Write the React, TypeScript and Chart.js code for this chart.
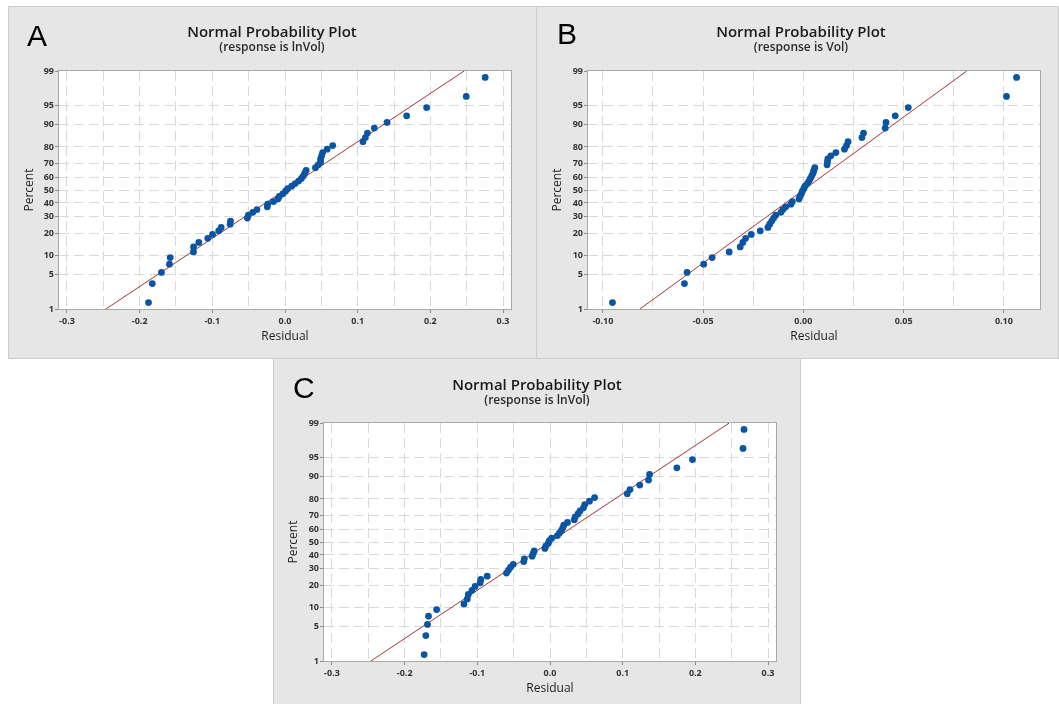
import { useEffect, useRef } from 'react';
import { Chart, registerables } from 'chart.js';

Chart.register(...registerables);

// ---------- data ----------
const PERCENTS = [
  1.39, 3.37, 5.36, 7.34, 9.33, 11.31, 13.29, 15.28, 17.26, 19.25,
  21.23, 23.21, 25.2, 27.18, 29.17, 31.15, 33.13, 35.12, 37.1, 39.09,
  41.07, 43.06, 45.04, 47.02, 49.01, 50.99, 52.98, 54.96, 56.94, 58.93,
  60.91, 62.9, 64.88, 66.87, 68.85, 70.83, 72.82, 74.8, 76.79, 78.77,
  80.75, 82.74, 84.72, 86.71, 88.69, 90.67, 92.66, 94.64, 96.63, 98.61,
];

const RESID_A = [
  -0.1878, -0.1826, -0.17, -0.159, -0.158, -0.126, -0.1258, -0.1186, -0.1063, -0.0997,
  -0.0912, -0.0878, -0.0755, -0.075, -0.0518, -0.0504, -0.0443, -0.0386, -0.0244, -0.0239,
  -0.0159, -0.0097, -0.0078, -0.0031, 0.0007, 0.0036, 0.0092, 0.014, 0.0187, 0.0225,
  0.0253, 0.0272, 0.0291, 0.0419, 0.0457, 0.049, 0.049, 0.0504, 0.0518, 0.058,
  0.0656, 0.1073, 0.1106, 0.1134, 0.1229, 0.1404, 0.1674, 0.1949, 0.2494, 0.2755,
];

const RESID_B = [
  -0.0952, -0.0593, -0.058, -0.0497, -0.0455, -0.037, -0.0315, -0.0302, -0.0288, -0.026,
  -0.0215, -0.0177, -0.0168, -0.0158, -0.0148, -0.0138, -0.0112, -0.0102, -0.0088, -0.0062,
  -0.0055, -0.0022, -0.0017, -0.001, -0.0005, 0.0002, 0.0008, 0.002, 0.0028, 0.0035,
  0.0042, 0.0048, 0.0052, 0.0057, 0.0118, 0.012, 0.0122, 0.0137, 0.0162, 0.0205,
  0.0215, 0.0223, 0.0292, 0.03, 0.0408, 0.0412, 0.0458, 0.0523, 0.1013, 0.1063,
];

const RESID_C = [
  -0.1732, -0.1709, -0.1686, -0.1672, -0.156, -0.1184, -0.1138, -0.1124, -0.1073, -0.1031,
  -0.0961, -0.0952, -0.0864, -0.0599, -0.0571, -0.0543, -0.0506, -0.0362, -0.0353, -0.0246,
  -0.0232, -0.0218, -0.007, -0.0056, -0.0023, -0.0009, 0.0023, 0.0102, 0.013, 0.0158,
  0.0176, 0.019, 0.0241, 0.0334, 0.0348, 0.0385, 0.0413, 0.046, 0.0478, 0.0543,
  0.0613, 0.1063, 0.1101, 0.1235, 0.1356, 0.137, 0.1746, 0.196, 0.2656, 0.267,
];

const FIT_PCT = [1, 99];
const FIT_A = [-0.2465, 0.2465];
const FIT_B = [-0.0815, 0.0815];
const FIT_C = [-0.2466, 0.2466];

const PCT_TICKS = [1, 5, 10, 20, 30, 40, 50, 60, 70, 80, 90, 95, 99];
const X_TICKS_AC = [-0.3, -0.25, -0.2, -0.15, -0.1, -0.05, 0, 0.05, 0.1, 0.15, 0.2, 0.25, 0.3];
const X_LABELS_AC = ['-0.3', '', '-0.2', '', '-0.1', '', '0.0', '', '0.1', '', '0.2', '', '0.3'];
const X_TICKS_B = [-0.1, -0.075, -0.05, -0.025, 0, 0.025, 0.05, 0.075, 0.1];
const X_LABELS_B = ['-0.10', '', '-0.05', '', '0.00', '', '0.05', '', '0.10'];

const TITLE = 'Normal Probability Plot';
const SUB_A = '(response is lnVol)';
const SUB_B = '(response is Vol)';
const SUB_C = '(response is lnVol)';
const X_TITLE = 'Residual';
const Y_TITLE = 'Percent';

// ---------- style ----------
const DOT = '#0a55a3';
const RED = '#aa3535';
const GRID = '#d9d9d9';
const TICKMARK = '#8a8a8a';
const TICK_COLOR = '#333333';
const PANEL_BG = '#e6e6e6';
const PANEL_BORDER = '#cdcdcd';
const FONT = "'Open Sans', 'Noto Sans', sans-serif";

// inverse of the standard normal CDF (probability axis transform)
function probit(p: number): number {
  const a = [-39.69683028665376, 220.9460984245205, -275.9285104469687, 138.357751867269, -30.66479806614716, 2.506628277459239];
  const b = [-54.47609879822406, 161.5858368580409, -155.6989798598866, 66.80131188771875, -13.28068155288572];
  const c = [-0.007784894002430293, -0.3223964580411365, -2.400758277161838, -2.549732539343734, 4.374664141464968, 2.938163982698783];
  const d = [0.007784695709041462, 0.3224671290700398, 2.445134137142996, 3.754408661907416];
  const plow = 0.02425;
  const phigh = 1 - plow;
  if (p < plow) {
    const q = Math.sqrt(-2 * Math.log(p));
    return (((((c[0] * q + c[1]) * q + c[2]) * q + c[3]) * q + c[4]) * q + c[5]) /
      ((((d[0] * q + d[1]) * q + d[2]) * q + d[3]) * q + 1);
  }
  if (p <= phigh) {
    const q = p - 0.5;
    const r = q * q;
    return (((((a[0] * r + a[1]) * r + a[2]) * r + a[3]) * r + a[4]) * r + a[5]) * q /
      (((((b[0] * r + b[1]) * r + b[2]) * r + b[3]) * r + b[4]) * r + 1);
  }
  const q = Math.sqrt(-2 * Math.log(1 - p));
  return -(((((c[0] * q + c[1]) * q + c[2]) * q + c[3]) * q + c[4]) * q + c[5]) /
    ((((d[0] * q + d[1]) * q + d[2]) * q + d[3]) * q + 1);
}

const areaPlugin = {
  id: 'plotArea',
  beforeDraw(chart: any) {
    const { ctx, chartArea: a } = chart;
    ctx.save();
    ctx.fillStyle = '#ffffff';
    ctx.fillRect(a.left, a.top, a.right - a.left, a.bottom - a.top);
    ctx.restore();
  },
  afterDraw(chart: any) {
    const { ctx, chartArea: a } = chart;
    ctx.save();
    ctx.strokeStyle = '#a8a8a8';
    ctx.lineWidth = 1;
    const l = Math.round(a.left) - 0.5;
    const t = Math.round(a.top) - 0.5;
    const r = Math.round(a.right) + 0.5;
    const b = Math.round(a.bottom) + 0.5;
    ctx.strokeRect(l, t, r - l, b - t);
    ctx.restore();
  },
};

type Geo = {
  left: number; top: number; width: number; height: number;
  plotL: number; plotR: number; plotT: number; plotB: number;
  letterX: number; letterY: number; titleX: number; titleY: number; subY: number;
  yTitleX: number; xTitleY: number;
};

type PanelProps = {
  g: Geo; letter: string; subtitle: string; resid: number[]; fit: number[];
  xMin: number; xMax: number; xTicks: number[]; xLabels: string[];
};

function Panel({ g, letter, subtitle, resid, fit, xMin, xMax, xTicks, xLabels }: PanelProps) {
  const ref = useRef<HTMLCanvasElement>(null);
  useEffect(() => {
    const canvas = ref.current;
    if (!canvas) return;
    const tickFont = { family: FONT, size: 9, weight: '700' as any };
    const axisFont = { family: FONT, size: 12, weight: '500' as any, lineHeight: 1.2 };
    const lh = 12 * 1.2;
    const lastY = PCT_TICKS.length - 1;
    const chart = new Chart(canvas, {
      type: 'scatter',
      data: {
        datasets: [
          {
            type: 'scatter',
            data: resid.map((x, i) => ({ x, y: probit(PERCENTS[i] / 100) })),
            backgroundColor: DOT,
            borderWidth: 0,
            pointRadius: 3.4,
            pointHoverRadius: 3.4,
            order: 1,
          } as any,
          {
            type: 'line',
            data: fit.map((x, i) => ({ x, y: probit(FIT_PCT[i] / 100) })),
            borderColor: RED,
            borderWidth: 1,
            pointRadius: 0,
            fill: false,
            tension: 0,
            order: 2,
          } as any,
        ],
      },
      options: {
        responsive: false,
        animation: false,
        events: [],
        layout: { padding: { left: 0, top: g.plotT, right: g.width - g.plotR, bottom: 0 } },
        plugins: {
          legend: { display: false },
          tooltip: { enabled: false },
          title: { display: false },
        },
        scales: {
          x: {
            type: 'linear',
            position: 'bottom',
            min: xMin,
            max: xMax,
            afterBuildTicks: (s: any) => { s.ticks = xTicks.map((v) => ({ value: v })); },
            afterFit: (s: any) => { s.height = g.height - g.plotB; },
            ticks: {
              autoSkip: false,
              maxRotation: 0,
              minRotation: 0,
              padding: 3,
              color: TICK_COLOR,
              font: tickFont,
              callback: (_v: any, i: number) => xLabels[i],
            },
            grid: {
              color: GRID,
              lineWidth: 1,
              drawTicks: true,
              tickLength: 4,
              tickWidth: 1,
              tickBorderDash: [],
              tickColor: (c: any) => (xLabels[c.index] ? TICKMARK : 'rgba(0,0,0,0)'),
            },
            border: { display: false, dash: [10, 5] },
            title: {
              display: true,
              text: X_TITLE,
              color: '#1e1e1e',
              font: axisFont,
              padding: { top: 0, bottom: g.height - g.xTitleY - lh / 2 },
            },
          } as any,
          y: {
            type: 'linear',
            position: 'left',
            min: probit(PCT_TICKS[0] / 100),
            max: probit(PCT_TICKS[lastY] / 100),
            afterBuildTicks: (s: any) => { s.ticks = PCT_TICKS.map((p) => ({ value: probit(p / 100) })); },
            afterFit: (s: any) => { s.width = g.plotL; },
            ticks: {
              autoSkip: false,
              padding: 1,
              color: TICK_COLOR,
              font: tickFont,
              callback: (_v: any, i: number) => String(PCT_TICKS[i]),
            },
            grid: {
              color: (c: any) => (c.index === 0 || c.index === lastY ? 'rgba(0,0,0,0)' : GRID),
              lineWidth: 1,
              drawTicks: true,
              tickLength: 4,
              tickWidth: 1,
              tickBorderDash: [],
              tickColor: TICKMARK,
            },
            border: { display: false, dash: [10, 5] },
            title: {
              display: true,
              text: Y_TITLE,
              color: '#1e1e1e',
              font: axisFont,
              padding: { top: g.yTitleX - lh / 2, bottom: 0 },
            },
          } as any,
        },
      },
      plugins: [areaPlugin],
    });
    return () => chart.destroy();
  }, []);

  return (
    <div
      style={{
        position: 'absolute',
        left: g.left,
        top: g.top,
        width: g.width,
        height: g.height,
        background: PANEL_BG,
        boxShadow: `inset 0 0 0 1px ${PANEL_BORDER}`,
      }}
    >
      <canvas
        ref={ref}
        width={g.width}
        height={g.height}
        style={{ position: 'absolute', left: 0, top: 0, width: g.width, height: g.height }}
      />
      <div
        style={{
          position: 'absolute',
          left: g.letterX - 1,
          top: g.letterY - 4,
          fontFamily: "'Liberation Sans', Arial, sans-serif",
          fontSize: 30,
          lineHeight: '30px',
          color: '#000',
        }}
      >
        {letter}
      </div>
      <div
        style={{
          position: 'absolute',
          left: g.titleX,
          top: g.titleY - 9,
          transform: 'translateX(-50%)',
          whiteSpace: 'nowrap',
          fontFamily: FONT,
          fontWeight: 600,
          fontSize: 15,
          lineHeight: '18px',
          color: '#1a1a1a',
        }}
      >
        {TITLE}
      </div>
      <div
        style={{
          position: 'absolute',
          left: g.titleX,
          top: g.subY - 8,
          transform: 'translateX(-50%)',
          whiteSpace: 'nowrap',
          fontFamily: FONT,
          fontWeight: 600,
          fontSize: 12,
          lineHeight: '14px',
          color: '#2a2a2a',
        }}
      >
        {subtitle}
      </div>
    </div>
  );
}

const GEO_A: Geo = {
  left: 8, top: 6, width: 529, height: 353,
  plotL: 51, plotR: 503, plotT: 65, plotB: 303,
  letterX: 20, letterY: 19, titleX: 264, titleY: 25, subY: 42,
  yTitleX: 22, xTitleY: 331,
};
const GEO_B: Geo = {
  left: 536, top: 6, width: 523, height: 353,
  plotL: 52, plotR: 504, plotT: 65, plotB: 303,
  letterX: 22, letterY: 17, titleX: 265, titleY: 25, subY: 42,
  yTitleX: 22, xTitleY: 331,
};
const GEO_C: Geo = {
  left: 273, top: 358, width: 528, height: 353,
  plotL: 51, plotR: 503, plotT: 65, plotB: 303,
  letterX: 21, letterY: 19, titleX: 264, titleY: 26, subY: 43,
  yTitleX: 21, xTitleY: 331,
};

export default function App() {
  return (
    <div
      style={{
        position: 'fixed',
        left: 0,
        top: 0,
        width: 1059,
        height: 704,
        overflow: 'hidden',
        background: '#ffffff',
      }}
    >
      <Panel g={GEO_A} letter="A" subtitle={SUB_A} resid={RESID_A} fit={FIT_A}
        xMin={-0.311} xMax={0.311} xTicks={X_TICKS_AC} xLabels={X_LABELS_AC} />
      <Panel g={GEO_B} letter="B" subtitle={SUB_B} resid={RESID_B} fit={FIT_B}
        xMin={-0.1074} xMax={0.118} xTicks={X_TICKS_B} xLabels={X_LABELS_B} />
      <Panel g={GEO_C} letter="C" subtitle={SUB_C} resid={RESID_C} fit={FIT_C}
        xMin={-0.311} xMax={0.311} xTicks={X_TICKS_AC} xLabels={X_LABELS_AC} />
    </div>
  );
}
